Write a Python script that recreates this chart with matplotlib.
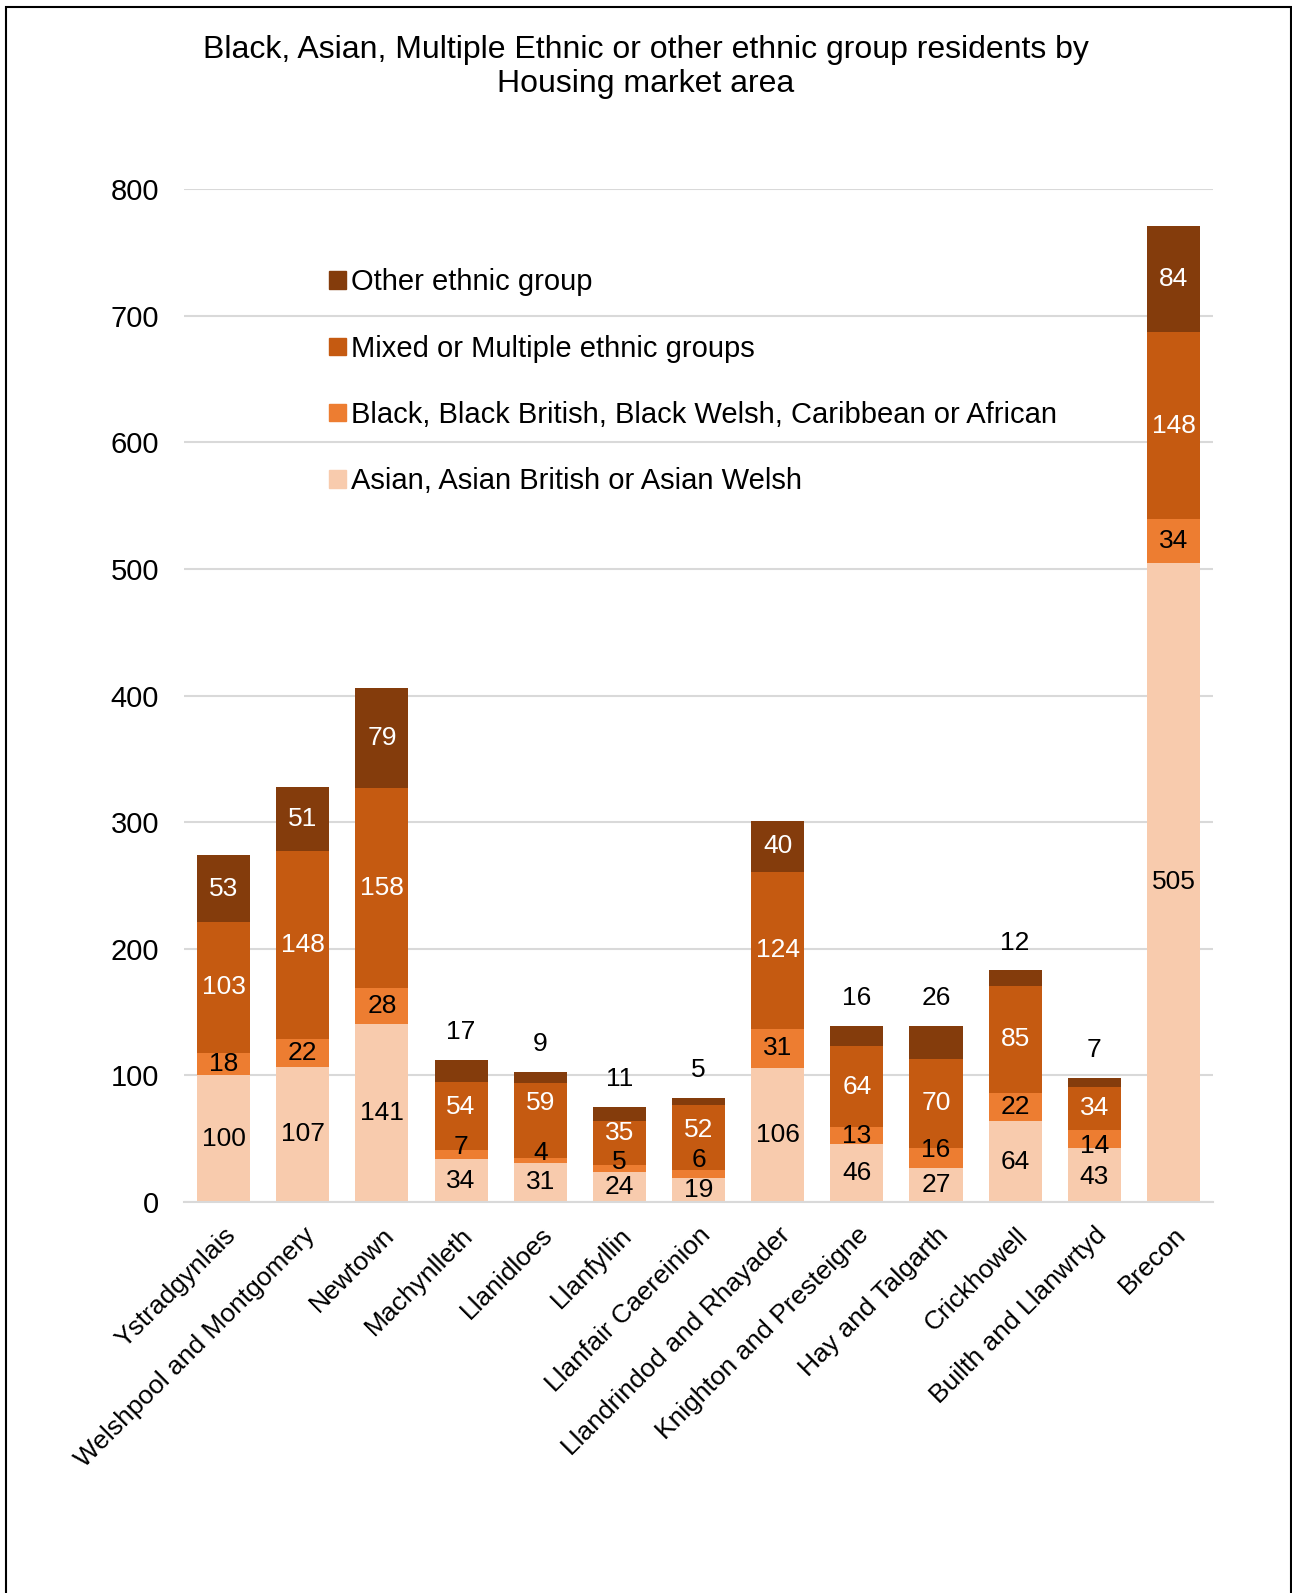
"""
Stacked bar chart: Black, Asian, Multiple Ethnic or other ethnic group
residents by Housing market area
"""
import matplotlib
matplotlib.use('Agg')
import matplotlib.pyplot as plt
from matplotlib.patches import Patch, Rectangle
import numpy as np

plt.rcParams['font.family'] = ['Liberation Sans', 'DejaVu Sans']

areas = ['Ystradgynlais', 'Welshpool and Montgomery', 'Newtown', 'Machynlleth',
         'Llanidloes', 'Llanfyllin', 'Llanfair Caereinion', 'Llandrindod and Rhayader',
         'Knighton and Presteigne', 'Hay and Talgarth', 'Crickhowell',
         'Builth and Llanwrtyd', 'Brecon']

asian = [100, 107, 141, 34, 31, 24, 19, 106, 46, 27, 64, 43, 505]
black = [18, 22, 28, 7, 4, 5, 6, 31, 13, 16, 22, 14, 34]
mixed = [103, 148, 158, 54, 59, 35, 52, 124, 64, 70, 85, 34, 148]
other = [53, 51, 79, 17, 9, 11, 5, 40, 16, 26, 12, 7, 84]

series_names = ['Asian, Asian British or Asian Welsh',
                'Black, Black British, Black Welsh, Caribbean or African',
                'Mixed or Multiple ethnic groups',
                'Other ethnic group']

colours = ['#F8CBAD', '#ED7D31', '#C55A11', '#843C0C']
label_colours = ['black', 'black', 'white', 'white']

# hand nudges (value units) for labels on thin segments so they don't collide
nudges = {
    (1, 3): 6, (2, 3): 7,
    (1, 4): 6, (2, 4): 14,
    (1, 5): 5, (2, 5): 8,
    (1, 6): 11, (2, 6): 6,
    (1, 9): 6,
    (1, 11): -6, (0, 11): -2,
}

fig = plt.figure(figsize=(12.92, 15.93), dpi=100)
ax = fig.add_axes([0.1424, 0.2454, 0.7965, 0.636])

x = np.arange(len(areas))
bottom = np.zeros(len(areas))
all_series = [asian, black, mixed, other]

for s, vals in enumerate(all_series):
    vals = np.array(vals, dtype=float)
    ax.bar(x, vals, bottom=bottom, width=0.67, color=colours[s], zorder=2)
    for i, v in enumerate(vals):
        if s == 3 and v < 30:
            # small top segments get the label above the bar
            ax.annotate(f'{int(v)}', (x[i], bottom[i] + v), xytext=(0, 20),
                        textcoords='offset points', ha='center', va='center',
                        fontsize=19, color='black')
        else:
            y = bottom[i] + v / 2 + nudges.get((s, i), 0)
            ax.text(x[i], y, f'{int(v)}', ha='center', va='center',
                    fontsize=19, color=label_colours[s], zorder=3)
    bottom += vals

ax.set_xlim(-0.5, len(areas) - 0.5)
ax.set_ylim(0, 800)
ax.set_yticks(range(0, 801, 100))
ax.grid(axis='y', color='#D9D9D9', linewidth=1.5, zorder=0)
for side in ['left', 'right', 'top']:
    ax.spines[side].set_visible(False)
ax.spines['bottom'].set_color('#D9D9D9')
ax.spines['bottom'].set_linewidth(1.5)
ax.tick_params(axis='both', length=0)
ax.tick_params(axis='y', pad=18, labelsize=21)
ax.tick_params(axis='x', pad=15, labelsize=19)
ax.set_xticks(x)
ax.set_xticklabels(areas, rotation=45, ha='right', rotation_mode='anchor')

handles = [Patch(color=colours[s], label=series_names[s]) for s in range(3, -1, -1)]
fig.legend(handles=handles, loc='upper left', bbox_to_anchor=(0.255, 0.8315),
           frameon=False, fontsize=21, handlelength=0.55, handleheight=0.55,
           handletextpad=0.2, labelspacing=1.31, borderpad=0, borderaxespad=0)

fig.text(0.5, 0.9581, 'Black, Asian, Multiple Ethnic or other ethnic group residents by\n'
         'Housing market area', ha='center', va='center', fontsize=23, linespacing=1.17)

fig.add_artist(Rectangle((6 / 1292, -0.01), 1284.5 / 1292, 1.01 - 7 / 1593,
                         transform=fig.transFigure, fill=False,
                         edgecolor='black', linewidth=1.5))

plt.savefig('out.png', dpi=100)
plt.close()
